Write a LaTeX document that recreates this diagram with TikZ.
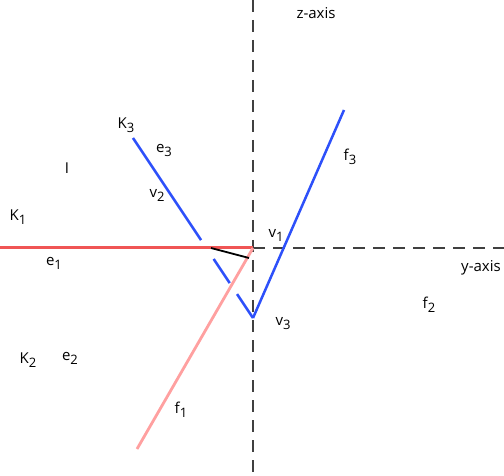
\documentclass[tikz,border=0pt]{standalone}
\usepackage{fontspec}
\setmainfont{Open Sans}
\usetikzlibrary{calc}
\definecolor{axred}{RGB}{240,85,85}
\definecolor{axpink}{RGB}{255,160,160}
\definecolor{axblue}{RGB}{45,80,250}
\newcommand{\lbsub}[2]{#1\raisebox{-4pt}{\fontsize{13}{13}\selectfont #2}}
\begin{document}
\begin{tikzpicture}[x=1pt,y=-1pt,
  lbl/.style={font=\fontsize{15}{15}\selectfont, inner sep=0pt},
  axisline/.style={black!75, line width=1.3pt, dash pattern=on 12pt off 8pt},
  redline/.style={axred, line width=3pt},
  pinkline/.style={axpink, line width=2.8pt},
  blueline/.style={axblue, line width=2.5pt}]
\useasboundingbox (0,0) rectangle (504,476);
% key points
\coordinate (O) at (253,248);
\coordinate (ztop) at (253,0);
\coordinate (zbot) at (253,476);
\coordinate (yend) at (504,248);
\coordinate (rleft) at (0,248);
\coordinate (f1end) at (137,449);
\coordinate (v2top) at (133,138);
\coordinate (V3) at (253,318);
\coordinate (f3top) at (344,110);
\coordinate (blackA) at (211,248);
\coordinate (blackB) at (249,258);
% axes
\draw[axisline] (ztop) -- (zbot);
\draw[axisline] (O) -- (yend);
% red and pink
\draw[redline] (rleft) -- (O);
\draw[pinkline] (O) -- (f1end);
% blue line (hidden parts dashed)
\draw[blueline] (v2top) -- ($(v2top)!0.567!(V3)$);
\draw[blueline] ($(v2top)!0.672!(V3)$) -- ($(v2top)!0.806!(V3)$);
\draw[blueline] ($(v2top)!0.867!(V3)$) -- (V3);
\draw[blueline] (V3) -- (f3top);
% black segment
\draw[black, line width=1.8pt] (blackA) -- (blackB);
% labels
\node[lbl] (zaxis) at (316,13) {z-axis};
\node[lbl] (yaxis) at (481,268) {y-axis};
\node[lbl] (f2) at (429,305) {\lbsub{f}{2}};
\node[lbl] (f3) at (350,157) {\lbsub{f}{3}};
\node[lbl] (v1) at (276,235) {\lbsub{v}{1}};
\node[lbl] (v3) at (283,324) {\lbsub{v}{3}};
\node[lbl] (K3) at (126,125) {\lbsub{K}{3}};
\node[lbl] (e3) at (164,150) {\lbsub{e}{3}};
\node[lbl] (v2) at (157,195) {\lbsub{v}{2}};
\node[lbl] (I) at (67,168) {I};
\node[lbl] (K1) at (18,217) {\lbsub{K}{1}};
\node[lbl] (e1) at (54,263) {\lbsub{e}{1}};
\node[lbl] (K2) at (28,360) {\lbsub{K}{2}};
\node[lbl] (e2) at (70,358) {\lbsub{e}{2}};
\node[lbl] (f1) at (181,410) {\lbsub{f}{1}};
\end{tikzpicture}
\end{document}
